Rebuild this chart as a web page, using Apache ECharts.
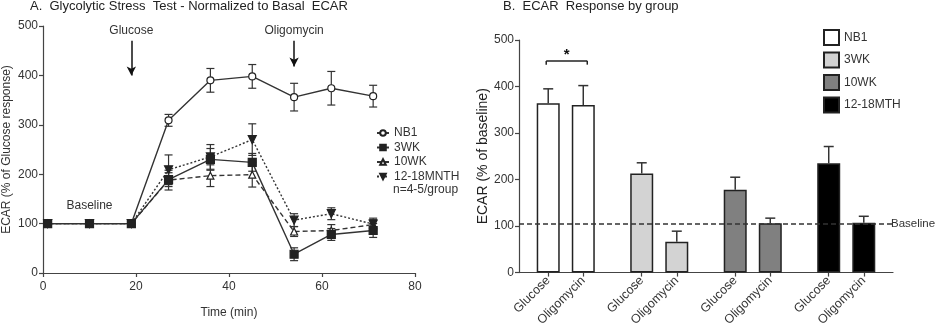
<!DOCTYPE html>
<html><head><meta charset="utf-8">
<script src="https://cdn.jsdelivr.net/npm/echarts@6/dist/echarts.min.js"></script>
<style>html,body{margin:0;padding:0;background:#fff}#c{width:936px;height:329px}</style>
</head><body><div id="c"></div>
<script>
// ---------- Panel A: time course ----------
const timeMin  = [1, 10, 19, 27, 36, 45, 54, 62, 71];
const nb1      = [100, 100, 100, 309, 390, 398, 356, 374, 358];
const nb1Err   = [0, 0, 0, 12, 24, 24, 28, 34, 22];
const wk3      = [100, 100, 100, 189, 230, 224, 38, 78, 86];
const wk3Err   = [0, 0, 0, 14, 22, 18, 13, 12, 14];
const wk10     = [100, 100, 100, 188, 197, 199, 84, 86, 98];
const wk10Err  = [0, 0, 0, 20, 22, 25, 10, 12, 10];
const mth      = [100, 100, 100, 209, 235, 270, 107, 120, 99];
const mthErr   = [0, 0, 0, 30, 25, 32, 13, 12, 12];
const lineNames = ['NB1', '3WK', '10WK', '12-18MNTH'];
const xTicksA = [0, 20, 40, 60, 80];
const yTicks = [0, 100, 200, 300, 400, 500];

// ---------- Panel B: bars ----------
const barGroups = ['NB1', '3WK', '10WK', '12-18MTH'];
const conditions = ['Glucose', 'Oligomycin'];
const nb1Bar   = [364, 360];
const nb1BarErr = [31, 42];
const wk3Bar   = [213, 66];
const wk3BarErr = [23, 23];
const wk10Bar  = [178, 106];
const wk10BarErr = [27, 11];
const mthBar   = [235, 107];
const mthBarErr = [36, 14];
const baselineB = 105;
const sigBracket = [455, 447]; // bracket level, tick bottom
const sigStarY = 472;

// layout of category slots (spacing only)
const slotCount = 32;
const slotPos = [[2, 5], [10, 13], [18, 21], [26, 29]];

const FONT = "'Liberation Sans', Arial, sans-serif";
const AX = '#444';
const TXT = '#333';

const slotCats = [];
for (let i = 0; i < slotCount; i++) slotCats.push('s' + i);
const slotLabel = {};
slotPos.forEach(p => { slotLabel[p[0]] = conditions[0]; slotLabel[p[1]] = conditions[1]; });
const isSlot = i => slotLabel[i] !== undefined;

const barVals = [nb1Bar, wk3Bar, wk10Bar, mthBar];
const barErrs = [nb1BarErr, wk3BarErr, wk10BarErr, mthBarErr];
const barColors = ['#ffffff', '#d3d3d3', '#808080', '#000000'];

const lineVals = [nb1, wk3, wk10, mth];
const lineErrs = [nb1Err, wk3Err, wk10Err, mthErr];

function errRenderA(params, api) {
  const x = api.value(0), v = api.value(1), e = api.value(2);
  if (!e) return null;
  const p1 = api.coord([x, v + e]), p2 = api.coord([x, v - e]);
  const st = { stroke: '#333', lineWidth: 1.2 };
  return { type: 'group', children: [
    { type: 'line', shape: { x1: p1[0], y1: p1[1], x2: p2[0], y2: p2[1] }, style: st },
    { type: 'line', shape: { x1: p1[0] - 4, y1: p1[1], x2: p1[0] + 4, y2: p1[1] }, style: st },
    { type: 'line', shape: { x1: p2[0] - 4, y1: p2[1], x2: p2[0] + 4, y2: p2[1] }, style: st }
  ]};
}
function errRenderB(params, api) {
  const x = api.value(0), v = api.value(1), e = api.value(2);
  const p0 = api.coord([x, v]), p1 = api.coord([x, v + e]);
  const st = { stroke: '#333', lineWidth: 1.5 };
  return { type: 'group', children: [
    { type: 'line', shape: { x1: p0[0], y1: p0[1], x2: p1[0], y2: p1[1] }, style: st },
    { type: 'line', shape: { x1: p1[0] - 5, y1: p1[1], x2: p1[0] + 5, y2: p1[1] }, style: st }
  ]};
}

const lineStyles = [
  { type: 'solid' }, { type: 'solid' }, { type: [5, 3] }, { type: [2, 2] }
];
const symbols = [
  { symbol: 'circle', symbolSize: 7, fill: '#fff', rot: 0 },
  { symbol: 'rect', symbolSize: 8, fill: '#222', rot: 0 },
  { symbol: 'triangle', symbolSize: 7, fill: '#fff', rot: 0 },
  { symbol: 'triangle', symbolSize: 8, fill: '#222', rot: 180 }
];

const series = [];
// error bars A
lineVals.forEach((vals, g) => {
  series.push({
    type: 'custom', xAxisIndex: 0, yAxisIndex: 0, z: 1,
    renderItem: errRenderA,
    data: timeMin.map((t, i) => [t, vals[i], lineErrs[g][i]])
  });
});
// lines A (3WK drawn last so its squares sit on top at baseline)
[0, 2, 3, 1].forEach(g => {
  const s = symbols[g];
  series.push({
    type: 'line', name: lineNames[g], xAxisIndex: 0, yAxisIndex: 0, z: 3,
    data: timeMin.map((t, i) => [t, lineVals[g][i]]),
    symbol: s.symbol, symbolSize: s.symbolSize, symbolRotate: s.rot,
    showAllSymbol: true,
    itemStyle: { color: s.fill, borderColor: '#222', borderWidth: 1.2 },
    lineStyle: Object.assign({ color: '#333', width: 1.4 }, lineStyles[g]),
    emphasis: { disabled: true }
  });
});
// annotations A
series.push({
  type: 'line', xAxisIndex: 0, yAxisIndex: 0, data: [], silent: true,
  markLine: {
    silent: true, symbol: ['none', 'arrow'], symbolSize: [7, 9],
    lineStyle: { color: '#111', width: 1.5, type: 'solid' },
    label: { show: true, position: 'start', distance: 4, color: TXT, fontSize: 12, fontFamily: FONT },
    data: [
      [{ coord: [19, 470], label: { formatter: 'Glucose' } }, { coord: [19, 400] }],
      [{ coord: [54, 470], label: { formatter: 'Oligomycin' } }, { coord: [54, 418] }]
    ]
  },
  markPoint: {
    silent: true, symbol: 'circle', symbolSize: 0,
    label: { show: true, position: 'inside', color: TXT, fontSize: 12, fontFamily: FONT, formatter: 'Baseline' },
    data: [{ coord: [10, 136] }]
  }
});
// bars B
barGroups.forEach((g, gi) => {
  const data = new Array(slotCount).fill(null);
  slotPos[gi].forEach((slot, ci) => { data[slot] = barVals[gi][ci]; });
  series.push({
    type: 'bar', name: g + '#b', xAxisIndex: 1, yAxisIndex: 1, stack: 'b', barWidth: 23,
    data: data,
    itemStyle: { color: barColors[gi], borderColor: '#222', borderWidth: 1.5 },
    emphasis: { disabled: true }
  });
});
// error bars B
series.push({
  type: 'custom', xAxisIndex: 1, yAxisIndex: 1, z: 3, renderItem: errRenderB,
  data: [].concat(...slotPos.map((p, gi) => p.map((slot, ci) => [slot, barVals[gi][ci], barErrs[gi][ci]])))
});
// significance bracket + baseline
series.push({
  type: 'custom', xAxisIndex: 1, yAxisIndex: 1, z: 3,
  renderItem: function (params, api) {
    const a = api.coord([api.value(0), api.value(2)]);
    const b = api.coord([api.value(1), api.value(2)]);
    const lo = api.coord([api.value(0), api.value(3)]);
    const st = { stroke: '#222', lineWidth: 1.5 };
    const xa = a[0] - 2, xb = b[0] + 4;
    const s = api.coord([(api.value(0) + api.value(1)) / 2, api.value(4)]);
    return { type: 'group', children: [
      { type: 'line', shape: { x1: xa, y1: a[1], x2: xb, y2: b[1] }, style: st },
      { type: 'line', shape: { x1: xa, y1: a[1], x2: xa, y2: lo[1] }, style: st },
      { type: 'line', shape: { x1: xb, y1: b[1], x2: xb, y2: lo[1] }, style: st },
      { type: 'text', x: (xa + xb) / 2, y: s[1] + 2, style: { text: '*', fill: '#111', font: 'bold 15px ' + FONT, align: 'center', verticalAlign: 'middle' } }
    ]};
  },
  data: [[slotPos[0][0], slotPos[0][1], sigBracket[0], sigBracket[1], sigStarY]],
  markLine: {
    silent: true, symbol: 'none',
    lineStyle: { color: '#333', width: 1.5, type: [5, 3] },
    label: { show: true, position: 'end', distance: -2, formatter: 'Baseline', color: TXT, fontSize: 11.5, fontFamily: FONT },
    data: [{ yAxis: baselineB }]
  }
});

const axisCommon = {
  axisLine: { show: true, lineStyle: { color: AX, width: 1.2 } },
  axisTick: { show: true, length: 4, lineStyle: { color: AX, width: 1.2 } },
  axisLabel: { color: TXT, fontSize: 12, fontFamily: FONT, margin: 5 },
  splitLine: { show: false }
};

const option = {
  animation: false,
  backgroundColor: '#fff',
  textStyle: { fontFamily: FONT },
  title: [
    { text: 'A.  Glycolytic Stress  Test - Normalized to Basal  ECAR', left: 30, top: 0, padding: 0,
      textStyle: { fontSize: 13, fontWeight: 'normal', color: '#222', fontFamily: FONT } },
    { text: 'B.  ECAR  Response by group', left: 503, top: 0, padding: 0,
      textStyle: { fontSize: 13, fontWeight: 'normal', color: '#222', fontFamily: FONT } },
    { text: 'n=4-5/group', left: 393, top: 184, padding: 0,
      textStyle: { fontSize: 12, fontWeight: 'normal', color: TXT, fontFamily: FONT } }
  ],
  legend: [
    { data: lineNames, orient: 'vertical', left: 376, top: 127, padding: 0, itemWidth: 12, itemHeight: 7, itemGap: 2.5,
      selectedMode: false, textStyle: { fontSize: 12, color: TXT, fontFamily: FONT } },
    { data: barGroups.map(g => ({ name: g + '#b', icon: 'rect' })), orient: 'vertical', left: 823, top: 29, padding: 0,
      itemWidth: 15, itemHeight: 15, itemGap: 5.5, selectedMode: false,
      formatter: n => n.replace('#b', ''),
      textStyle: { fontSize: 12, color: TXT, fontFamily: FONT } }
  ],
  grid: [
    { left: 43, right: 521, top: 26, bottom: 56 },
    { left: 519, right: 43, top: 40, bottom: 56 }
  ],
  xAxis: [
    Object.assign({}, axisCommon, { gridIndex: 0, type: 'value', min: xTicksA[0], max: xTicksA[xTicksA.length - 1],
      interval: xTicksA[1] - xTicksA[0], name: 'Time (min)', nameLocation: 'middle', nameGap: 34,
      axisLabel: { color: TXT, fontSize: 12, fontFamily: FONT, margin: 8 },
      nameTextStyle: { fontSize: 12, color: TXT, fontFamily: FONT } }),
    Object.assign({}, axisCommon, { gridIndex: 1, type: 'category', data: slotCats,
      axisTick: { show: true, length: 4, alignWithLabel: true, interval: i => isSlot(i), lineStyle: { color: AX, width: 1.2 } },
      axisLabel: { color: TXT, fontSize: 12.5, fontFamily: FONT, rotate: 45, margin: 6, interval: i => isSlot(i),
        formatter: (v, i) => slotLabel[i] || '' } })
  ],
  yAxis: [
    Object.assign({}, axisCommon, { gridIndex: 0, type: 'value', min: yTicks[0], max: yTicks[yTicks.length - 1],
      interval: yTicks[1] - yTicks[0], name: 'ECAR (% of Glucose response)', nameLocation: 'middle', nameGap: 30,
      nameTextStyle: { fontSize: 12, color: TXT, fontFamily: FONT } }),
    Object.assign({}, axisCommon, { gridIndex: 1, type: 'value', min: yTicks[0], max: yTicks[yTicks.length - 1],
      interval: yTicks[1] - yTicks[0], name: 'ECAR (% of baseline)', nameLocation: 'middle', nameGap: 20,
      nameTextStyle: { fontSize: 14, color: '#222', fontFamily: FONT } })
  ],
  series: series
};

const chart = echarts.init(document.getElementById('c'), null, { renderer: 'canvas' });
chart.setOption(option);
</script>
</body></html>
